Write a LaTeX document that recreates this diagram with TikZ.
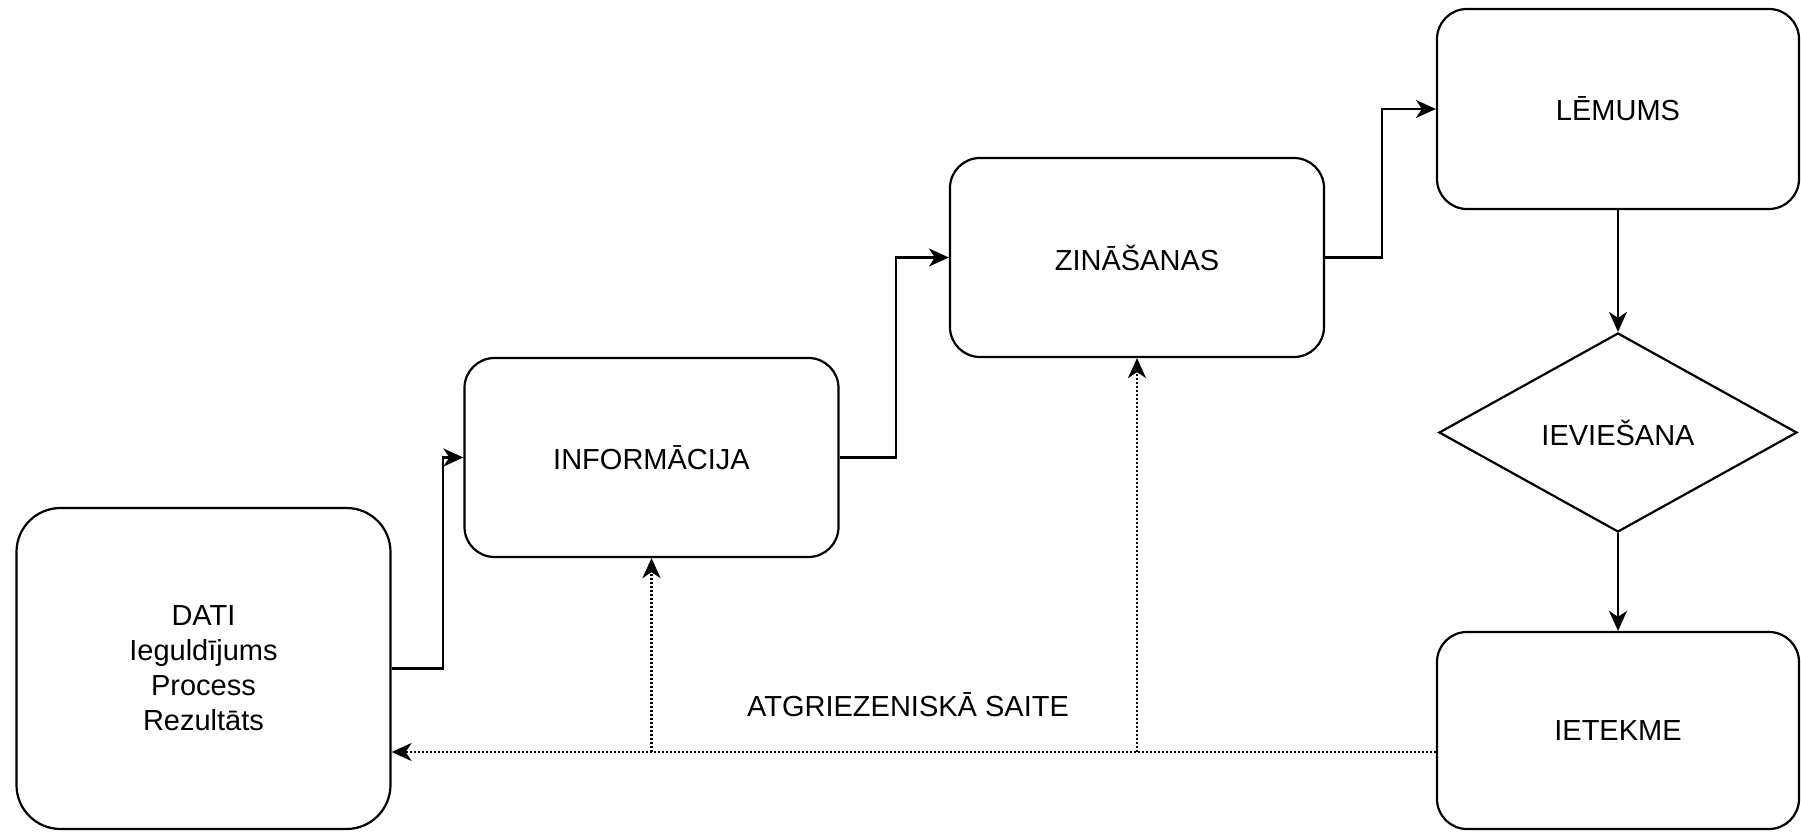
\documentclass[tikz,border=0pt]{standalone}
\usepackage{fontspec}
\setmainfont{Liberation Sans}
\usetikzlibrary{calc, arrows.meta, positioning, shapes.geometric}

\begin{document}
\begin{tikzpicture}[x=0.5pt, y=-0.5pt, >={Stealth[length=10pt, width=9pt, inset=3pt]}, font=\fontsize{14.5}{17.5}\selectfont]
		\tikzstyle{box} = [draw=black, line width=1.1pt, rectangle, rounded corners=15pt, align=center, minimum width=187pt, minimum height=99.5pt]
		\tikzstyle{decide} = [draw=black, line width=1.1pt, diamond, minimum width=179pt, minimum height=99.5pt, inner sep=0pt]
		\tikzstyle{invis} = [draw=none]
		\tikzstyle{arrow} = [line width=1.1pt, ->]
		\tikzstyle{feedback} = [line width=1.1pt, dash pattern=on 1pt off 1pt, ->]

		\useasboundingbox (0, 0) rectangle (1801, 834);

		\node[box, minimum height=160.5pt, rounded corners=22pt]	at (203.5, 668.5)	(dati)		{DATI\\Ieguldījums\\Process\\Rezultāts};
		\node[box]										at (651.5, 457.5)	(info)		{INFORMĀCIJA};
		\node[box]										at (1137, 257.5)	(zin)		{ZINĀŠANAS};
		\node[box, minimum width=181pt, minimum height=100pt]		at (1618, 109)		(lem)		{LĒMUMS};
		\node[decide]									at (1618, 432.5)	(ieviesana)	{IEVIEŠANA};
		\node[box, minimum width=181pt, minimum height=98.5pt]	at (1618, 730.5)	(ietekme)	{IETEKME};
		\node[invis]									at (908, 705)		(saite)		{ATGRIEZENISKĀ SAITE};

		\draw[arrow] (dati.east) -- ++(51, 0) |- (info.west);
		\draw[arrow] (info.east) -- ++(56, 0) |- (zin.west);
		\draw[arrow] (zin.east) -- ++(57, 0) |- (lem.west);
		\path[arrow]
		(lem)		edge	(ieviesana)
		(ieviesana)	edge	(ietekme);

		% atgriezeniska saite
		\coordinate (fb) at ($(ietekme.west) + (0, 21.5)$);
		\draw[feedback] (fb) -- (fb -| dati.east);
		\draw[feedback] (fb -| info.south) -- (info.south);
		\draw[feedback] (fb -| zin.south) -- (zin.south);
	\end{tikzpicture}
\end{document}
